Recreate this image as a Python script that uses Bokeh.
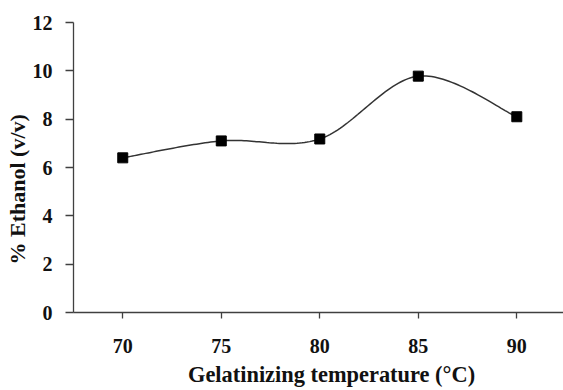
import numpy as np
from bokeh.plotting import figure
from bokeh.models import FixedTicker, Range1d, Title
from bokeh.embed import file_html
from bokeh.resources import INLINE

temps = [70, 75, 80, 85, 90]
ethanol = [6.4, 7.1, 7.18, 9.78, 8.1]
y_ticks = [0, 2, 4, 6, 8, 10, 12]
x_title = "Gelatinizing temperature (\u00b0C)"
y_title = "% Ethanol (v/v)"


def smooth(xs, ys, n=40):
    P = np.column_stack([xs, ys]).astype(float)
    ext = np.vstack([P[0], P, P[-1]])
    out = []
    for i in range(len(P) - 1):
        p0, p1, p2, p3 = ext[i], ext[i + 1], ext[i + 2], ext[i + 3]
        c1 = p1 + (p2 - p0) / 6
        c2 = p2 - (p3 - p1) / 6
        t = np.linspace(0, 1, n)[:, None]
        seg = (1 - t) ** 3 * p1 + 3 * (1 - t) ** 2 * t * c1 + 3 * (1 - t) * t ** 2 * c2 + t ** 3 * p2
        out.append(seg if i == 0 else seg[1:])
    S = np.vstack(out)
    return S[:, 0], S[:, 1]


FONT = "Liberation Serif"
AX = "#404040"
TXT = "#111111"

p = figure(width=563, height=390, output_backend="svg", toolbar_location=None,
           x_range=Range1d(67.5, 92.37), y_range=Range1d(0, 12),
           min_border_left=73, min_border_right=0, min_border_top=22, min_border_bottom=78)
p.outline_line_color = None
p.xgrid.visible = False
p.ygrid.visible = False
p.background_fill_color = "white"
p.border_fill_color = "white"

for ax in (p.xaxis[0], p.yaxis[0]):
    ax.axis_line_color = AX
    ax.axis_line_width = 1.3
    ax.major_tick_line_color = AX
    ax.major_tick_line_width = 1.3
    ax.major_tick_in = 0
    ax.minor_tick_line_color = None
    ax.major_label_text_font = FONT
    ax.major_label_text_font_style = "bold"
    ax.major_label_text_font_size = "20px"
    ax.major_label_text_color = TXT

p.xaxis.ticker = FixedTicker(ticks=temps)
p.xaxis.major_tick_out = 6
p.xaxis.major_label_standoff = 20
p.yaxis.ticker = FixedTicker(ticks=y_ticks)
p.yaxis.major_tick_out = 8
p.yaxis.major_label_standoff = 13

sx, sy = smooth(temps, ethanol)
p.line(sx, sy, line_color="#333333", line_width=1.5)
p.scatter(temps, ethanol, marker="square", size=10, fill_color="black", line_color="black")

p.add_layout(Title(text=x_title, text_font=FONT, text_font_style="bold", text_font_size="22.4px",
                   text_color=TXT, align="left", offset=114.5, standoff=8), "below")
p.add_layout(Title(text=y_title, text_font=FONT, text_font_style="bold", text_font_size="22px",
                   text_color=TXT, align="left", offset=48, standoff=0), "left")

open("out.html", "w").write(file_html(p, INLINE))
